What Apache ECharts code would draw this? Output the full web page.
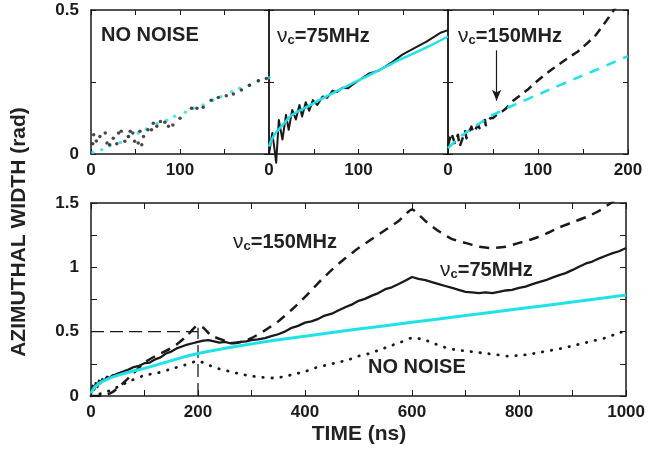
<!DOCTYPE html>
<html>
<head>
<meta charset="utf-8">
<script src="https://cdn.jsdelivr.net/npm/echarts@6/dist/echarts.min.js"></script>
<style>html,body{margin:0;padding:0;background:#fff}#c{width:648px;height:452px}</style>
</head>
<body>
<div id="c"></div>
<script>
// ---------- DATA ----------
// Bottom panel (TIME ns, AZIMUTHAL WIDTH rad)
const theoryT = [0, 5, 10, 20, 30, 50, 75, 100, 150, 200, 300, 400, 500, 600, 700, 800, 900, 1000];
const theoryV = [0.02, 0.06, 0.08, 0.11, 0.13, 0.16, 0.19, 0.215, 0.275, 0.33, 0.405, 0.465, 0.52, 0.573, 0.625, 0.678, 0.73, 0.785];

const nu75T = [0, 3, 6, 9, 12, 15, 18, 21, 25, 30, 35, 40, 45, 50, 60, 70, 80, 90, 100, 110, 120, 130, 140, 150, 160, 170, 180, 190, 200, 210, 220, 230, 240, 250, 260, 270, 280, 290, 300, 312, 325, 337, 350, 362, 375, 387, 400, 412, 425, 437, 450, 462, 475, 487, 500, 512, 525, 537, 550, 562, 575, 587, 600, 612, 625, 637, 650, 662, 675, 687, 700, 712, 725, 737, 750, 762, 775, 787, 800, 812, 825, 837, 850, 862, 875, 887, 900, 912, 925, 937, 950, 962, 975, 987, 1000];
const nu75V = [0.03, 0.08, 0.05, 0.10, 0.07, 0.12, 0.10, 0.13, 0.12, 0.15, 0.14, 0.16, 0.165, 0.175, 0.19, 0.205, 0.225, 0.235, 0.255, 0.26, 0.285, 0.30, 0.33, 0.345, 0.37, 0.385, 0.40, 0.41, 0.42, 0.43, 0.435, 0.425, 0.415, 0.42, 0.41, 0.415, 0.42, 0.425, 0.435, 0.44, 0.45, 0.465, 0.48, 0.50, 0.53, 0.545, 0.57, 0.58, 0.60, 0.625, 0.64, 0.665, 0.69, 0.71, 0.74, 0.755, 0.78, 0.80, 0.83, 0.845, 0.87, 0.895, 0.925, 0.91, 0.90, 0.885, 0.87, 0.855, 0.84, 0.825, 0.81, 0.805, 0.80, 0.805, 0.80, 0.81, 0.82, 0.825, 0.84, 0.85, 0.87, 0.885, 0.90, 0.92, 0.94, 0.955, 0.98, 1.005, 1.03, 1.045, 1.07, 1.09, 1.11, 1.125, 1.15];

const nu150T = [0, 20, 40, 60, 80, 100, 120, 140, 160, 180, 200, 210, 225, 250, 265, 280, 300, 325, 350, 375, 400, 425, 450, 475, 500, 525, 550, 575, 600, 625, 650, 675, 700, 725, 750, 775, 800, 825, 850, 875, 900, 925, 950, 975, 1000];
const nu150V = [0.0, 0.0, 0.03, 0.10, 0.18, 0.26, 0.31, 0.35, 0.40, 0.47, 0.55, 0.53, 0.47, 0.43, 0.41, 0.42, 0.45, 0.51, 0.58, 0.67, 0.77, 0.88, 0.98, 1.07, 1.15, 1.22, 1.29, 1.36, 1.45, 1.36, 1.28, 1.22, 1.19, 1.16, 1.15, 1.16, 1.19, 1.22, 1.26, 1.31, 1.35, 1.39, 1.44, 1.51, 1.58];

const noNoiseT = [0, 20, 40, 50, 75, 100, 125, 150, 175, 200, 220, 240, 260, 280, 300, 320, 340, 360, 380, 400, 420, 440, 460, 480, 500, 520, 540, 560, 580, 600, 620, 640, 660, 680, 700, 720, 740, 760, 780, 800, 820, 840, 860, 880, 900, 920, 940, 960, 980, 1000];
const noNoiseV = [0.0, 0.02, 0.05, 0.07, 0.12, 0.16, 0.18, 0.21, 0.24, 0.27, 0.24, 0.21, 0.19, 0.17, 0.155, 0.145, 0.14, 0.15, 0.17, 0.19, 0.22, 0.24, 0.26, 0.28, 0.31, 0.33, 0.36, 0.39, 0.42, 0.45, 0.44, 0.41, 0.38, 0.36, 0.35, 0.34, 0.33, 0.32, 0.31, 0.315, 0.325, 0.34, 0.355, 0.37, 0.39, 0.41, 0.43, 0.45, 0.48, 0.51];

const refHT = [0, 200], refHV = [0.5, 0.5];
const refVT = [200, 200], refVV = [0, 0.53];

// Top panel 1 (NO NOISE)
const p1DotT = [2, 3, 6, 10, 16, 18, 21, 25, 29, 31, 34, 38, 42, 44, 47, 49, 53, 55, 57, 59, 64, 68, 70, 74, 78, 83, 87, 92, 100, 113, 119, 126, 135, 143, 152, 160, 169, 178, 188, 197];
const p1DotV = [0.036, 0.067, 0.045, 0.061, 0.073, 0.038, 0.032, 0.055, 0.036, 0.073, 0.079, 0.044, 0.061, 0.079, 0.073, 0.044, 0.038, 0.079, 0.032, 0.061, 0.084, 0.084, 0.107, 0.096, 0.113, 0.11, 0.096, 0.101, 0.124, 0.159, 0.159, 0.162, 0.187, 0.196, 0.202, 0.208, 0.222, 0.239, 0.254, 0.262];
const p1CyanT = [2, 12, 21, 33, 42, 53, 62, 74, 85, 94, 106, 115, 126, 137, 146, 158, 167, 178, 188, 200];
const p1CyanV = [0.005, 0.015, 0.029, 0.040, 0.061, 0.073, 0.087, 0.105, 0.117, 0.131, 0.145, 0.159, 0.17, 0.187, 0.199, 0.216, 0.228, 0.239, 0.254, 0.265];

// Top panel 2 (75 MHz)
const p2T = [0, 3.7, 5.6, 8, 11, 15, 19, 22, 26, 30, 34, 37, 41, 45, 49, 54, 60, 65, 71, 76, 82, 88, 93, 101, 112, 123, 138, 149, 164, 176, 191, 200];
const p2V = [0.0, 0.073, 0.03, -0.03, 0.118, 0.05, 0.136, 0.084, 0.153, 0.12, 0.17, 0.13, 0.18, 0.15, 0.187, 0.17, 0.2, 0.195, 0.22, 0.215, 0.23, 0.228, 0.24, 0.257, 0.28, 0.29, 0.32, 0.345, 0.37, 0.39, 0.42, 0.43];
const p2CyanT = [0, 3, 7.5, 15, 26, 45, 64, 101, 138, 176, 200];
const p2CyanV = [0.026, 0.05, 0.073, 0.10, 0.136, 0.168, 0.2, 0.257, 0.315, 0.37, 0.408];

// Top panel 3 (150 MHz)
const p3T = [0, 3.8, 7.5, 11, 13, 19, 20.5, 26, 28, 33.5, 35, 41, 42, 47, 50, 54, 60, 65, 73, 80, 88, 97, 107, 116, 125, 134, 144, 153, 163, 172, 182, 190, 200];
const p3V = [0.03, 0.073, 0.038, 0.067, 0.026, 0.079, 0.055, 0.095, 0.075, 0.10, 0.09, 0.118, 0.10, 0.124, 0.125, 0.136, 0.147, 0.16, 0.187, 0.203, 0.222, 0.248, 0.274, 0.295, 0.315, 0.335, 0.355, 0.38, 0.408, 0.445, 0.49, 0.525, 0.57];
const p3CyanT = [0, 10, 20, 32, 50, 88, 125, 163, 200];
const p3CyanV = [0.02, 0.05, 0.075, 0.10, 0.136, 0.19, 0.24, 0.29, 0.34];
const arrowT = [54, 54], arrowV = [0.36, 0.185];

// ---------- CHART ----------
const FONT = '"Liberation Sans", Arial, Helvetica, sans-serif';
const INK = '#1a1a1a';
const CYAN = '#1fe2e8';
const pairs = (t, v) => t.map((x, i) => [x, v[i]]);

const grids = [
  {left: 91, top: 10, width: 178, height: 144},
  {left: 269, top: 10, width: 179, height: 144},
  {left: 448, top: 10, width: 180, height: 144},
  {left: 91, top: 203, width: 536, height: 193}
];

const xAxes = [], yAxes = [];
function addX(gi, max, interval, labelFn, tickLen) {
  const base = {
    type: 'value', gridIndex: gi, min: 0, max: max, interval: interval,
    axisLine: {show: true, onZero: false, lineStyle: {color: INK, width: 1.5}},
    axisTick: {show: true, inside: true, length: tickLen, lineStyle: {color: INK, width: 1}},
    splitLine: {show: false}
  };
  xAxes.push(Object.assign({}, base, {position: 'bottom',
    axisLabel: {show: true, margin: 8, color: INK, fontFamily: FONT, fontWeight: 'bold', fontSize: 17, formatter: labelFn}}));
  xAxes.push(Object.assign({}, base, {position: 'top', axisLabel: {show: false}}));
}
function addY(gi, max, interval, labelFn, tickLen) {
  const base = {
    type: 'value', gridIndex: gi, min: 0, max: max, interval: interval,
    axisLine: {show: true, onZero: false, lineStyle: {color: INK, width: 1.5}},
    axisTick: {show: true, inside: true, length: tickLen, lineStyle: {color: INK, width: 1}},
    splitLine: {show: false}
  };
  yAxes.push(Object.assign({}, base, {position: 'left',
    axisLabel: labelFn ? {show: true, margin: 12, color: INK, fontFamily: FONT, fontWeight: 'bold', fontSize: 17, formatter: labelFn} : {show: false}}));
  yAxes.push(Object.assign({}, base, {position: 'right', axisLabel: {show: false}}));
}
const topX = (list) => (v) => list.indexOf(v) >= 0 ? String(v) : '';
addX(0, 200, 50, topX([0, 100]), 5);
addX(1, 200, 50, topX([0, 100]), 5);
addX(2, 200, 50, topX([0, 100, 200]), 5);
addX(3, 1000, 100, (v) => (v % 200 === 0 ? String(v) : ''), 6);
const topY = (v) => (v === 0 || v === 0.5) ? String(v) : '';
addY(0, 0.5, 0.25, topY, 5);
addY(1, 0.5, 0.25, null, 5);
addY(2, 0.5, 0.25, null, 5);
addY(3, 1.5, 0.25, (v) => (Math.abs(v * 2 - Math.round(v * 2)) < 1e-6 ? String(v) : ''), 6);

function line(gi, data, color, width, type, extra) {
  return Object.assign({
    type: 'line', xAxisIndex: gi * 2, yAxisIndex: gi * 2, data: data,
    symbol: 'none', showSymbol: false, silent: true, animation: false,
    lineStyle: {color: color, width: width, type: type, cap: 'butt', join: 'round'}
  }, extra || {});
}

const series = [
  // panel 1
  {type: 'scatter', xAxisIndex: 0, yAxisIndex: 0, data: pairs(p1CyanT, p1CyanV), symbol: 'circle', symbolSize: 3.5, itemStyle: {color: CYAN}, silent: true, animation: false},
  {type: 'scatter', xAxisIndex: 0, yAxisIndex: 0, data: pairs(p1DotT, p1DotV), symbol: 'circle', symbolSize: 3.5, itemStyle: {color: INK}, silent: true, animation: false},
  // panel 2
  line(1, pairs(p2T, p2V), INK, 2, 'solid', {clip: false}),
  line(1, pairs(p2CyanT, p2CyanV), CYAN, 2.5, 'solid', {smooth: 0.4}),
  // panel 3
  line(2, pairs(p3T, p3V), INK, 2.5, [9, 6]),
  line(2, pairs(p3CyanT, p3CyanV), CYAN, 2.5, [10, 8], {smooth: 0.4,
    markLine: {silent: true, animation: false, symbol: ['none', 'arrow'], symbolSize: [7, 11],
      label: {show: false}, lineStyle: {color: INK, width: 1.2, type: 'solid'},
      data: [[{coord: [arrowT[0], arrowV[0]]}, {coord: [arrowT[1], arrowV[1]]}]]}}),
  // bottom
  line(3, pairs(refHT, refHV), INK, 1.3, [13, 6]),
  line(3, pairs(refVT, refVV), INK, 1.3, [13, 6]),
  line(3, pairs(noNoiseT, noNoiseV), INK, 2.8, [0.5, 8.5], {smooth: 0.3, lineStyle: {color: INK, width: 2.8, type: [0.5, 8.5], cap: 'round'}}),
  line(3, pairs(nu150T, nu150V), INK, 2.5, [10, 7], {smooth: 0.2}),
  line(3, pairs(nu75T, nu75V), INK, 2.3, 'solid'),
  line(3, pairs(theoryT, theoryV), CYAN, 3, 'solid', {smooth: 0.4})
];

const RICH = {
  n: {fontFamily: FONT, fontSize: 21, fontWeight: 'normal', fill: '#222', lineHeight: 22},
  c: {fontFamily: FONT, fontSize: 13, fontWeight: 'bold', fill: '#222', verticalAlign: 'bottom', lineHeight: 13},
  b: {fontFamily: FONT, fontSize: 20, fontWeight: 'bold', fill: '#222', lineHeight: 22}
};
function txt(x, y, text, opts) {
  return Object.assign({type: 'text', x: x, y: y, silent: true,
    style: Object.assign({text: text, rich: RICH, fill: '#222', font: 'bold 20px ' + FONT, verticalAlign: 'middle', align: 'left'}, (opts && opts.style) || {})},
    opts && opts.el ? opts.el : {});
}

const graphic = [
  txt(101, 35, '{b|NO NOISE}'),
  txt(277, 36, '{n|ν}{c|c}{b|=75MHz}'),
  txt(458, 36, '{n|ν}{c|c}{b|=150MHz}'),
  txt(233, 242, '{n|ν}{c|c}{b|=150MHz}'),
  txt(440, 270, '{n|ν}{c|c}{b|=75MHz}'),
  txt(368, 367, '{b|NO NOISE}'),
  txt(359, 434, 'TIME (ns)', {style: {align: 'center', font: 'bold 21px ' + FONT}}),
  {type: 'text', x: 19, y: 232, rotation: Math.PI / 2, silent: true,
    style: {text: 'AZIMUTHAL WIDTH (rad)', fill: '#222', font: 'bold 21px ' + FONT, align: 'center', verticalAlign: 'middle'}}
];

const chart = echarts.init(document.getElementById('c'), null, {renderer: 'canvas'});
chart.setOption({
  animation: false,
  backgroundColor: '#fff',
  grid: grids,
  xAxis: xAxes,
  yAxis: yAxes,
  series: series,
  graphic: graphic
});
</script>
</body>
</html>
